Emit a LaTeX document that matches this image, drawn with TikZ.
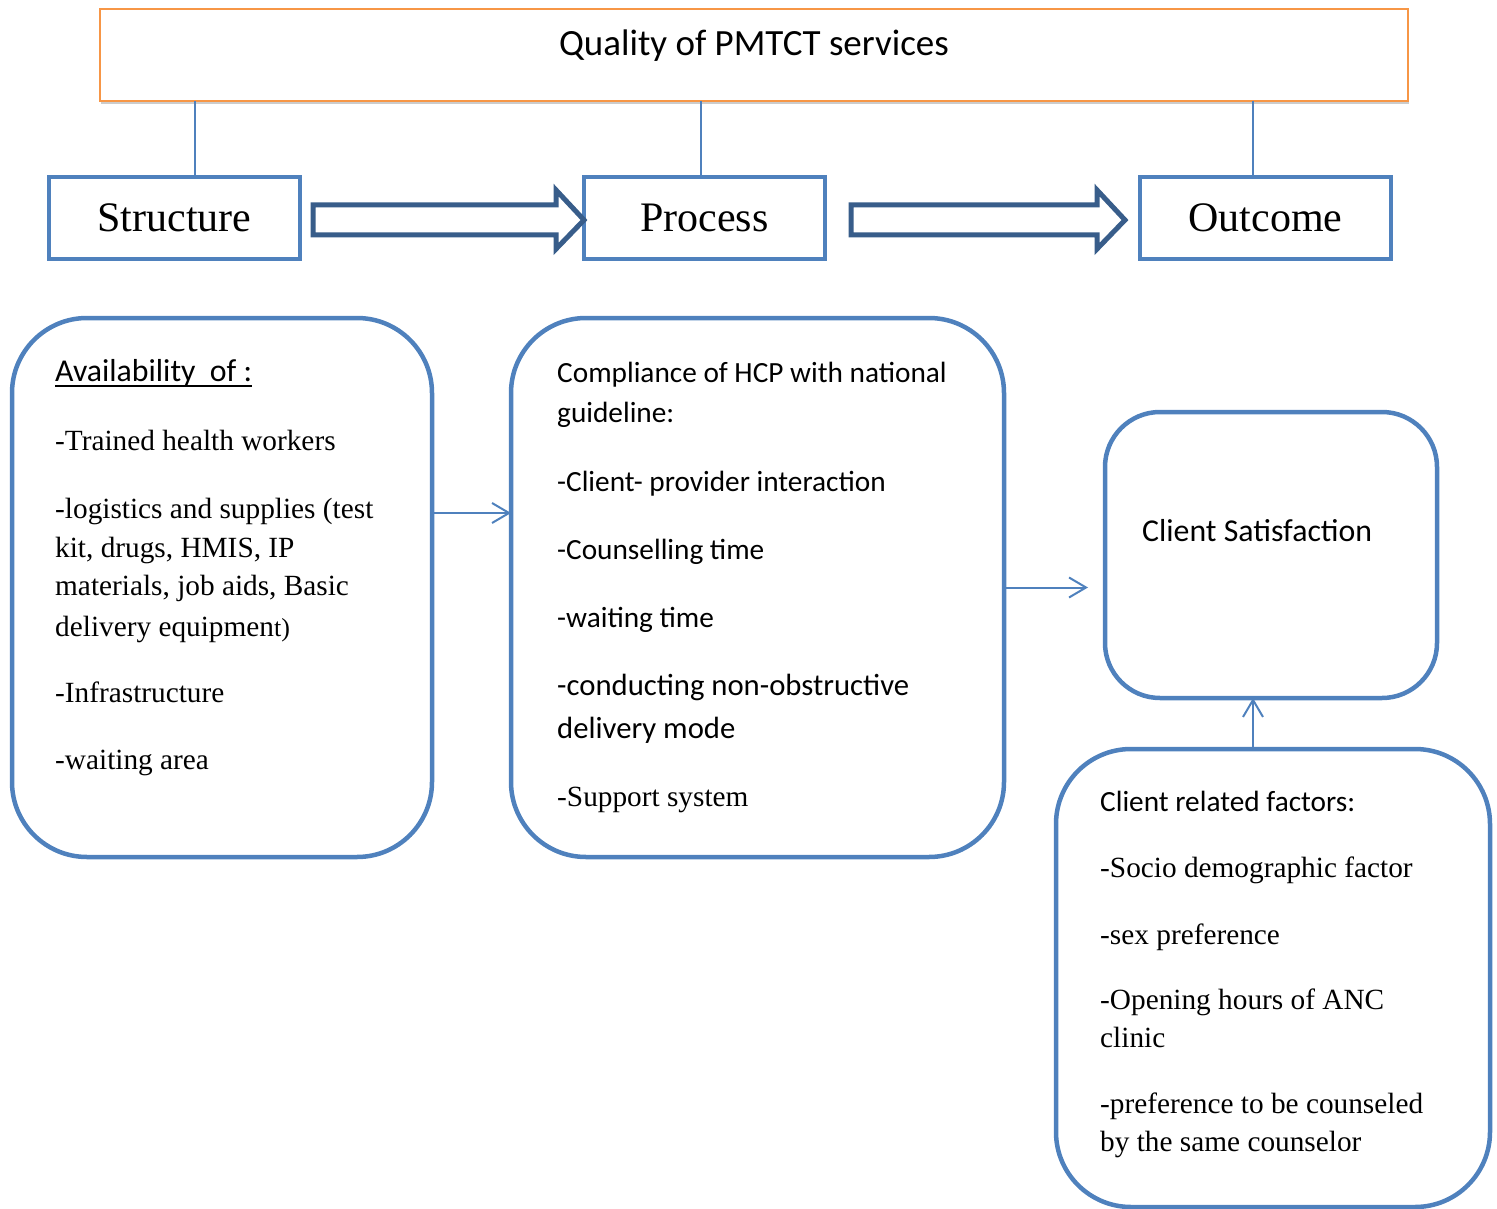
\documentclass[tikz,border=0pt]{standalone}
\usepackage{fontspec}
\setmainfont{Liberation Serif}
\newfontfamily\calfont{Carlito}
\usetikzlibrary{arrows.meta,shadows,calc}
\definecolor{boxblue}{HTML}{4F81BD}
\definecolor{arrowblue}{HTML}{385D8A}
\definecolor{frameorange}{HTML}{F79646}
% heavy underline, as in a word processor
\newcommand\thickul[1]{\setbox0\hbox{#1}\rlap{\rule[-6pt]{\wd0}{2.5pt}}\box0}

\begin{document}
\begin{tikzpicture}[x=1pt,y=-1pt,
  headbox/.style={draw=boxblue, line width=4pt, minimum width=251pt, minimum height=82pt,
    inner sep=0pt, outer sep=0pt, anchor=north west, font=\fontsize{42}{50}\selectfont},
  roundbox/.style={draw=boxblue, line width=4.5pt, rounded corners=75pt,
    inner sep=0pt, outer sep=0pt, anchor=north west},
  tline/.style={anchor=base west, inner sep=0pt, font=\fontsize{29.3}{39}\selectfont},
  cline/.style={anchor=base west, inner sep=0pt, font=\calfont\fontsize{29.3}{39}\selectfont},
  link/.style={draw=boxblue, line width=1.5pt},
  flow/.style={draw=boxblue, line width=2pt, -{Straight Barb[length=17pt,width=20pt]}},
  blockarrow/.style={draw=arrowblue, line width=5pt, line join=miter, fill=white}
]
\useasboundingbox (0,0) rectangle (1497,1209);

% title frame
\node[draw=frameorange, line width=2pt, fill=white, minimum width=1308pt, minimum height=92pt,
  anchor=north west, inner sep=0pt, outer sep=0pt,
  drop shadow={shadow xshift=1pt, shadow yshift=-3.5pt, opacity=0.4}] (top) at (100,9) {};
\node[anchor=base, inner sep=0pt, font=\calfont\fontsize{37}{44}\selectfont] (title) at (754,56) {Quality of PMTCT services};

% the three dimensions
\node[headbox] (struct) at (49,177) {Structure};
\node[headbox, minimum width=241pt] (proc) at (584,177) {Process};
\node[headbox] (outc) at (1140,177) {Outcome};

\coordinate (k1) at (195,0);
\coordinate (k2) at (701,0);
\coordinate (k3) at (1253,0);
\draw[link] (top.south -| k1) -- (struct.north -| k1);
\draw[link] (top.south -| k2) -- (proc.north -| k2);
\draw[link] (top.south -| k3) -- (outc.north -| k3);

% block arrows between the dimensions
\coordinate (a1) at ($(struct.east)+(13,2)$);
\coordinate (b1) at ($(proc.west)+(0,2)$);
\draw[blockarrow] ($(a1)+(0,-15)$) -- ($(b1)+(-28,-15)$) -- ($(b1)+(-28,-30)$) -- (b1)
  -- ($(b1)+(-28,29)$) -- ($(b1)+(-28,15)$) -- ($(a1)+(0,15)$) -- cycle;
\coordinate (a2) at ($(proc.east)+(26,2)$);
\coordinate (b2) at ($(outc.west)+(-15,2)$);
\draw[blockarrow] ($(a2)+(0,-15)$) -- ($(b2)+(-28,-15)$) -- ($(b2)+(-28,-30)$) -- (b2)
  -- ($(b2)+(-28,29)$) -- ($(b2)+(-28,15)$) -- ($(a2)+(0,15)$) -- cycle;

% detail boxes
\node[roundbox, minimum width=420pt, minimum height=539pt] (avail) at (12,318) {};
\node[roundbox, minimum width=493pt, minimum height=539pt] (comp) at (511,318) {};
\node[roundbox, rounded corners=55pt, minimum width=332pt, minimum height=286pt] (sat) at (1105,412) {};
\node[roundbox, minimum width=434pt, minimum height=458pt] (crf) at (1056,749) {};

% structure items
\node[cline, font=\calfont\fontsize{31.8}{39}\selectfont] (av0) at (55,381) {\thickul{Availability\ \ of :}};
\node[tline] (av1) at (55,450) {-Trained health workers};
\node[tline] (av2) at (55,518) {-logistics and supplies (test};
\node[tline] (av3) at (55,557) {kit, drugs, HMIS, IP};
\node[tline] (av4) at (55,595) {materials, job aids, Basic};
\node[tline] (av5) at (55,636) {delivery equipmen{\fontsize{26}{30}\selectfont t)}};
\node[tline] (av6) at (55,702) {-Infrastructure};
\node[tline] (av7) at (55,769) {-waiting area};

% process items
\node[cline] (cp0) at (557,382) {Compliance of HCP with national};
\node[cline] (cp1) at (557,422) {guideline:};
\node[cline] (cp2) at (557,491) {-Client- provider interaction};
\node[cline] (cp3) at (557,559) {-Counselling time};
\node[cline] (cp4) at (557,627) {-waiting time};
\node[cline, font=\calfont\fontsize{30.7}{40}\selectfont] (cp5) at (557,695) {-conducting non-obstructive};
\node[cline, font=\calfont\fontsize{30.7}{40}\selectfont] (cp6) at (557,738) {delivery mode};
\node[tline] (cp7) at (557,806) {-Support system};

% outcome
\node[cline, font=\calfont\fontsize{31.8}{40}\selectfont] (st0) at (1142,541) {Client Satisfaction};

% client related factors
\node[cline] (cr0) at (1100,811) {Client related factors:};
\node[tline] (cr1) at (1100,877) {-Socio demographic factor};
\node[tline] (cr2) at (1100,944) {-sex preference};
\node[tline] (cr3) at (1100,1009) {-Opening hours of ANC};
\node[tline] (cr4) at (1100,1047) {clinic};
\node[tline] (cr5) at (1100,1113) {-preference to be counseled};
\node[tline] (cr6) at (1100,1151) {by the same counselor};

% links between the detail boxes
\coordinate (k4) at (1253,0);
\draw[flow] ([yshift=74.5pt]avail.east) -- ([yshift=74.5pt]comp.west);
\draw[flow, shorten >=17pt] (comp.east) -- (comp.east -| sat.west);
\draw[flow] (crf.north -| k4) -- (sat.south -| k4);
\end{tikzpicture}
\end{document}
